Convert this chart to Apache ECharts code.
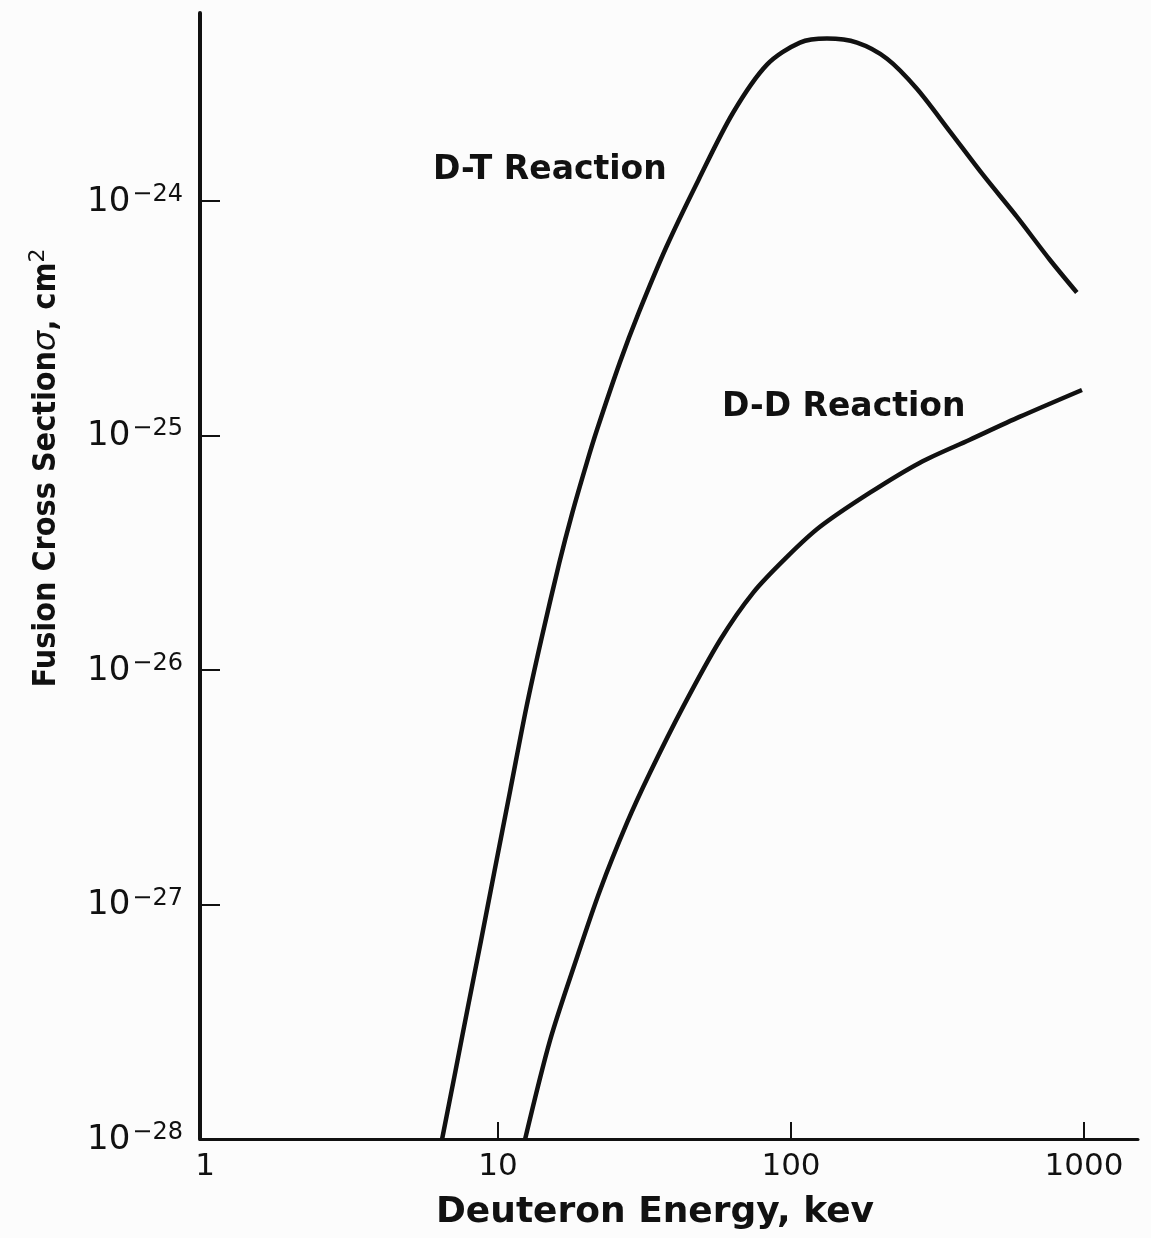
<!DOCTYPE html>
<html>
<head>
<meta charset="utf-8">
<script src="https://cdn.jsdelivr.net/npm/echarts@6/dist/echarts.min.js"></script>
<style>
  html, body { margin: 0; padding: 0; background: #fcfcfc; }
  #chart { width: 1151px; height: 1238px; }
</style>
</head>
<body>
<div id="chart"></div>
<script>
// Deuteron energy (keV) and fusion cross section (cm^2) for each reaction
const dtEnergy = [6.44, 7.13, 7.89, 8.74, 9.69, 11.01, 12.50, 14.03, 16.18, 17.92, 20.08, 21.76, 26.03, 30.21, 37.56, 48.37, 63.4, 82.8, 107.3, 132.7, 168, 212.7, 269, 349, 452, 590, 765, 946];
const dtSigma = [1.0e-28, 1.91e-28, 3.66e-28, 6.99e-28, 1.36e-27, 3.08e-27, 6.95e-27, 1.34e-26, 2.86e-26, 4.67e-26, 7.63e-26, 1.055e-25, 2.04e-25, 3.33e-25, 6.36e-25, 1.229e-24, 2.37e-24, 3.80e-24, 4.72e-24, 4.91e-24, 4.72e-24, 4.03e-24, 3.00e-24, 1.97e-24, 1.29e-24, 8.55e-25, 5.60e-25, 4.06e-25];

const ddEnergy = [12.37, 15.05, 18.61, 22.29, 27.56, 33.0, 42.8, 57.3, 74.2, 96.9, 125.6, 186, 275.6, 408, 605, 985];
const ddSigma = [1.0e-28, 2.64e-28, 5.97e-28, 1.15e-27, 2.23e-27, 3.64e-27, 6.95e-27, 1.34e-26, 2.13e-26, 3.03e-26, 4.07e-26, 5.69e-26, 7.64e-26, 9.57e-26, 1.20e-25, 1.56e-25];

// Axis ticks
const energyTicks = [1, 10, 100, 1000];
const sigmaTicks = [1e-28, 1e-27, 1e-26, 1e-25, 1e-24];

// The cross-section axis is plotted in units of 1e-28 cm^2 so the log scale
// works with ordinary magnitudes; labels convert back to powers of ten.
const SIGMA_UNIT = 1e-28;
const toUnit = v => v / SIGMA_UNIT;
const pairs = (xs, ys) => xs.map((x, i) => [x, toUnit(ys[i])]);

const FONT = "'DejaVu Sans', sans-serif";
const INK = '#111111';

const chart = echarts.init(document.getElementById('chart'));

chart.setOption({
  backgroundColor: '#fcfcfc',
  animation: false,
  grid: { left: 200, right: 13, top: 13, bottom: 99, containLabel: false },
  xAxis: {
    type: 'log',
    logBase: 10,
    min: 0.96,
    max: 1530,
    axisLine: { show: true, lineStyle: { color: INK, width: 3 } },
    axisTick: {
      show: true, inside: true, length: 17,
      customValues: energyTicks.slice(1),
      lineStyle: { color: INK, width: 2 }
    },
    axisLabel: {
      customValues: energyTicks,
      margin: 12,
      color: INK,
      fontFamily: FONT,
      fontSize: 31,
      formatter: v => String(Math.round(v))
    },
    splitLine: { show: false },
    minorTick: { show: false },
    name: 'Deuteron Energy, kev',
    nameLocation: 'middle',
    nameGap: 56,
    nameTextStyle: {
      color: INK, fontFamily: FONT, fontWeight: 'bold', fontSize: 36,
      padding: [0, 28, 0, 0]
    }
  },
  yAxis: {
    type: 'log',
    logBase: 10,
    min: 1,
    max: 63100,
    axisLine: { show: true, lineStyle: { color: INK, width: 4 } },
    axisTick: {
      show: true, inside: true, length: 20,
      customValues: sigmaTicks.slice(1).map(toUnit),
      lineStyle: { color: INK, width: 2 }
    },
    axisLabel: {
      customValues: sigmaTicks.map(toUnit),
      margin: 17,
      color: INK,
      formatter: v => {
        const e = Math.round(Math.log10(v * SIGMA_UNIT));
        return '{b|10}{s|\u2212' + (-e) + '}';
      },
      rich: {
        b: { fontFamily: FONT, fontSize: 34, color: INK, lineHeight: 36, verticalAlign: 'bottom' },
        s: { fontFamily: FONT, fontSize: 24, color: INK, lineHeight: 36, verticalAlign: 'top', padding: [0, 0, 6, 2] }
      }
    },
    splitLine: { show: false },
    minorTick: { show: false }
  },
  graphic: [
    {
      type: 'text',
      x: 45, y: 468,
      rotation: Math.PI / 2,
      style: {
        text: '{t|Fusion Cross Section}{g|\u03c3}{t|, cm}{s|2}',
        align: 'center',
        verticalAlign: 'middle',
        rich: {
          t: { fontFamily: "'DejaVu Sans Condensed', 'Liberation Sans Narrow', sans-serif", fontWeight: 'bold', fontSize: 32, fill: INK, lineHeight: 36, verticalAlign: 'bottom' },
          g: { fontFamily: FONT, fontStyle: 'italic', fontSize: 32, fill: INK, lineHeight: 36, verticalAlign: 'bottom' },
          s: { fontFamily: FONT, fontSize: 22, fill: INK, lineHeight: 36, verticalAlign: 'top' }
        }
      }
    },
    {
      type: 'text',
      x: 433, y: 170,
      style: {
        text: 'D-T Reaction', fill: INK, fontFamily: FONT, fontWeight: 'bold', fontSize: 33,
        align: 'left', verticalAlign: 'middle'
      }
    },
    {
      type: 'text',
      x: 722, y: 407,
      style: {
        text: 'D-D Reaction', fill: INK, fontFamily: FONT, fontWeight: 'bold', fontSize: 33,
        align: 'left', verticalAlign: 'middle'
      }
    }
  ],
  series: [
    {
      name: 'D-T Reaction',
      type: 'line',
      data: pairs(dtEnergy, dtSigma),
      smooth: 0.3,
      showSymbol: false,
      clip: true,
      lineStyle: { color: INK, width: 4.5 }
    },
    {
      name: 'D-D Reaction',
      type: 'line',
      data: pairs(ddEnergy, ddSigma),
      smooth: 0.3,
      showSymbol: false,
      clip: true,
      lineStyle: { color: INK, width: 4.5 }
    }
  ]
});
</script>
</body>
</html>
